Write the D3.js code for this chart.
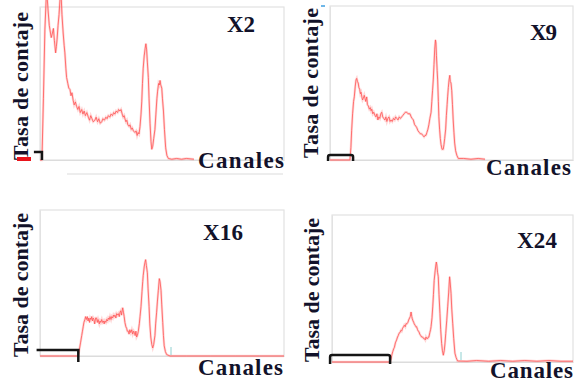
<!DOCTYPE html>
<html lang="es">
<head>
    <meta charset="UTF-8">
    <title>Espectros</title>
    <style>
        body { margin: 0; background: #fff; }
        text { font-family: "Liberation Serif", "Times New Roman", serif; font-weight: bold; fill: #12122a; }
    </style>
</head>
<body>
    <svg id="container" width="575" height="383"></svg>

<script src="https://cdn.jsdelivr.net/npm/d3@7/dist/d3.min.js"></script>
<script>
    // [canal, cuentas]
    let x2 = [[0,0],[8,0],[14,40],[20,85],[27,112],[33,98],[38,88],[41,85],[46,80],[51,83],[55,86],[59,78],[64,70],[67,74],[70,79],[74,88],[78,95],[82,105],[86,110],[90,95],[95,83],[99,75],[102,70],[106,60],[109,54],[114,50],[118,47],[123,46],[127,42],[131,44],[136,39],[140,36],[145,38],[150,35],[155,33],[160,35],[165,31],[171,33],[176,30],[181,32],[186,29],[192,31],[198,28],[203,26],[208,29],[213,27],[218,25],[225,26],[230,28],[236,25],[241,27],[247,24],[253,25],[258,27],[264,26],[270,28],[275,27],[280,29],[286,28],[291,30],[297,29],[302,31],[307,30],[312,32],[318,31],[322,33],[328,32],[332,33],[337,30],[341,28],[345,29],[348,27],[352,25],[356,26],[360,23],[365,22],[369,23],[374,20],[378,21],[383,19],[389,18],[394,19],[398,16],[402,18],[406,17],[410,22],[414,30],[417,38],[420,50],[423,60],[427,68],[431,73],[434,76],[437,72],[440,64],[444,54],[447,40],[451,24],[455,12],[458,7],[462,9],[466,14],[471,20],[475,30],[479,40],[482,45],[486,50],[489,49],[492,52],[495,49],[499,47],[502,40],[506,32],[510,20],[515,8],[520,3],[526,1],[540,0.5],[560,1],[580,0.5],[600,1],[631,0.5]]

    let x9 = [[0,0],[40,0],[82,0],[86,8],[89,19],[93,30],[97,38],[100,41],[104,48],[107,52],[110,53],[113,51],[116,50],[119,47],[122,46],[125,43],[128,44],[131,41],[134,39],[137,40],[141,42],[144,40],[147,38],[151,41],[154,36],[158,35],[162,33],[166,34],[169,32],[172,33],[176,30],[180,31],[185,29],[189,28],[193,30],[197,26],[201,28],[205,27],[209,30],[213,31],[217,28],[221,27],[226,26],[230,28],[234,25],[238,27],[243,28],[247,25],[251,26],[256,25],[261,27],[266,26],[270,28],[275,27],[280,26],[285,28],[290,27],[295,28],[300,29],[305,30],[310,31],[316,31],[321,30],[325,30],[329,30],[334,28],[338,27],[343,26],[348,23],[353,22],[357,21],[362,19],[367,18],[372,17],[377,17],[382,16],[387,15],[391,16],[395,16],[399,18],[403,20],[407,23],[411,27],[416,31],[419,38],[422,45],[425,52],[428,62],[431,72],[434,78],[436,76],[438,68],[441,58],[443,52],[446,38],[448,28],[451,20],[454,14],[457,10],[461,7],[466,7],[469,10],[472,14],[476,20],[479,29],[482,36],[484,41],[487,47],[490,52],[493,55],[495,51],[498,50],[501,45],[504,36],[507,26],[510,18],[513,11],[517,6],[522,3],[528,1],[550,1],[580,0.5],[610,1],[638,0.5]]

    let x16 = [[0,0],[80,0],[157,0],[161,4],[166,9],[171,14],[174,17],[177,20],[180,23],[184,25],[187,27],[190,25],[194,27],[197,24],[200,26],[203,23],[206,26],[209,25],[212,27],[215,24],[218,26],[221,25],[224,22],[228,26],[232,26],[235,23],[238,25],[243,22],[246,24],[249,23],[253,25],[256,23],[260,24],[263,22],[266,24],[270,23],[273,25],[277,24],[280,26],[284,25],[287,27],[291,25],[294,27],[298,26],[301,28],[304,27],[307,28],[311,26],[314,29],[318,28],[321,29],[325,27],[328,30],[331,31],[334,28],[337,31],[339,33],[342,30],[345,27],[348,23],[352,20],[355,19],[358,17],[362,17],[365,15],[368,18],[372,16],[376,18],[380,15],[384,17],[387,16],[390,14],[393,17],[396,13],[399,14],[403,17],[407,22],[410,27],[414,34],[418,44],[421,51],[423,55],[427,61],[430,64],[433,66],[436,62],[440,57],[443,46],[447,34],[450,22],[454,13],[458,8],[462,5.5],[466,8],[471,14],[474,22],[478,30],[481,37],[485,45],[489,53],[492,51],[496,45],[499,35],[503,23],[506,14],[509,7],[514,3],[519,1],[533,0],[600,0],[700,0],[800,0],[900,0],[1000,0]]

    let x24 = [[0,0],[120,0],[241,0],[245,2],[248,4.6],[252,7],[256,9],[259,10],[263,13],[268,15],[272,17],[275,18],[278,19.5],[282,20],[286,21.5],[289,21],[293,23],[297,24],[300,25],[304,24],[307,26],[311,26],[315,27],[318,28.5],[322,30],[325,31],[328,34],[331,31],[333,29.5],[336,28],[339,27],[341,26],[345,25],[348,24],[351,24],[355,22],[358,21],[361,20.5],[364,19],[368,18],[372,17],[376,17],[380,16],[383,16],[387,15],[390,17],[393,16],[397,16],[400,17],[402,17],[406,20],[409,22],[411,24],[415,30],[418,37.5],[421,46],[424,55.5],[428,62],[431,66],[433,68],[435,66],[438,61],[441,58],[444,46],[448,33],[451,22],[455,12.5],[458,8],[462,4.6],[466,8],[469,13],[472,19.5],[476,28],[480,37.5],[484,47],[488,58],[490,55],[494,46.5],[497,36],[501,26],[505,16],[510,6],[515,3],[521,0.7],[560,0.5],[600,1],[650,0.5],[700,1],[750,0.5],[800,1],[850,0.5],[900,1],[950,0.5],[1000,0.5]]

    let titles = ["X2", "X9", "X16", "X24"]
    let series = [x2, x9, x16, x24]
    // canales marcados con el corchete negro (umbral)
    let cutoffs = [[-25, 8], [-8, 95], [-14, 157], [-8, 241]]
    let yLabel = "Tasa de contaje"
    let xLabel = "Canales"

    // layout de cada panel
    let panels = [
        { left: 40, top: 7, w: 244, h: 153, yl: [28, 160, 148], xl: [198, 168, 86], tl: [227, 32, 28], br: [8, 0, false] },
        { left: 330, top: 6, w: 243, h: 154, yl: [318, 158, 150], xl: [486, 175, 85], tl: [530, 40, 27], br: [5, 1, true] },
        { left: 40, top: 210, w: 244, h: 146, yl: [28, 357, 144], xl: [198, 375, 85], tl: [203, 240, 40], br: [6, 6, false] },
        { left: 332, top: 215, w: 241, h: 147, yl: [319, 362, 144], xl: [490, 378, 83], tl: [517, 248, 40], br: [7, 2, true] }
    ]

    let svg = d3.select("#container")

    panels.forEach((p, i) => {
        let g = svg.append("g").attr("transform", `translate(${p.left},${p.top})`)

        let xScale = d3.scaleLinear().domain([0, 1000]).range([0, p.w])
        let yScale = d3.scaleLinear().domain([0, 100]).range([p.h, 0])

        g.append("rect")
            .attr("width", p.w).attr("height", p.h)
            .attr("fill", "none").attr("stroke", "#e2e2e2").attr("stroke-width", 1.2)

        let xAxis = g.append("g")
            .attr("transform", `translate(0,${p.h})`)
            .call(d3.axisBottom(xScale).ticks(0).tickSizeOuter(0))
        xAxis.select(".domain").attr("stroke", "#dcdcdc")

        let yAxis = g.append("g")
            .call(d3.axisLeft(yScale).ticks(0).tickSizeOuter(0))
        yAxis.select(".domain").attr("stroke", "#e2e2e2")

        let line = d3.line()
            .x(d => xScale(d[0]))
            .y(d => yScale(d[1]))

        g.append("path")
            .datum(series[i])
            .attr("d", line)
            .attr("fill", "none")
            .attr("stroke", "#ff8a8a")
            .attr("stroke-width", 2.4)
            .attr("opacity", 0.35)

        g.append("path")
            .datum(series[i])
            .attr("d", line)
            .attr("fill", "none")
            .attr("stroke", "#ff5555")
            .attr("stroke-width", 1)
            .attr("opacity", 0.8)

        // corchete negro
        let [up, down, both] = p.br
        let bx0 = xScale(cutoffs[i][0]), bx1 = xScale(cutoffs[i][1])
        let by = p.h - up
        let path = both
            ? `M${bx0},${p.h + down} L${bx0},${by + 2} Q${bx0},${by} ${bx0 + 2},${by} L${bx1 - 2},${by} Q${bx1},${by} ${bx1},${by + 2} L${bx1},${p.h + down}`
            : `M${bx0},${by} L${bx1},${by} L${bx1},${p.h + down}`
        g.append("path")
            .attr("d", path)
            .attr("fill", "none")
            .attr("stroke", "#151515")
            .attr("stroke-width", 2.5)

        svg.append("text")
            .attr("transform", `translate(${p.yl[0]},${p.yl[1]}) rotate(-90)`)
            .attr("font-size", 22)
            .attr("textLength", p.yl[2])
            .text(yLabel)

        svg.append("text")
            .attr("x", p.xl[0]).attr("y", p.xl[1])
            .attr("font-size", 23)
            .attr("textLength", p.xl[2])
            .text(xLabel)

        svg.append("text")
            .attr("x", p.tl[0]).attr("y", p.tl[1])
            .attr("font-size", 23)
            .attr("textLength", p.tl[2])
            .text(titles[i])
    })

    // restos del original
    svg.append("line").attr("x1", 67).attr("x2", 283).attr("y1", 174).attr("y2", 174)
        .attr("stroke", "#dcdcdc").attr("stroke-width", 1.2)
    svg.append("rect").attr("x", 17).attr("y", 157).attr("width", 14).attr("height", 4).attr("fill", "#e8141b")
    svg.append("rect").attr("x", 321).attr("y", 5).attr("width", 4).attr("height", 2).attr("fill", "#6fb7e8")
    svg.append("line").attr("x1", 171).attr("x2", 171).attr("y1", 347).attr("y2", 355).attr("stroke", "#8fd0d0")
    svg.append("line").attr("x1", 461).attr("x2", 461).attr("y1", 352).attr("y2", 360).attr("stroke", "#8fd0d0")
</script>
</body>
</html>
